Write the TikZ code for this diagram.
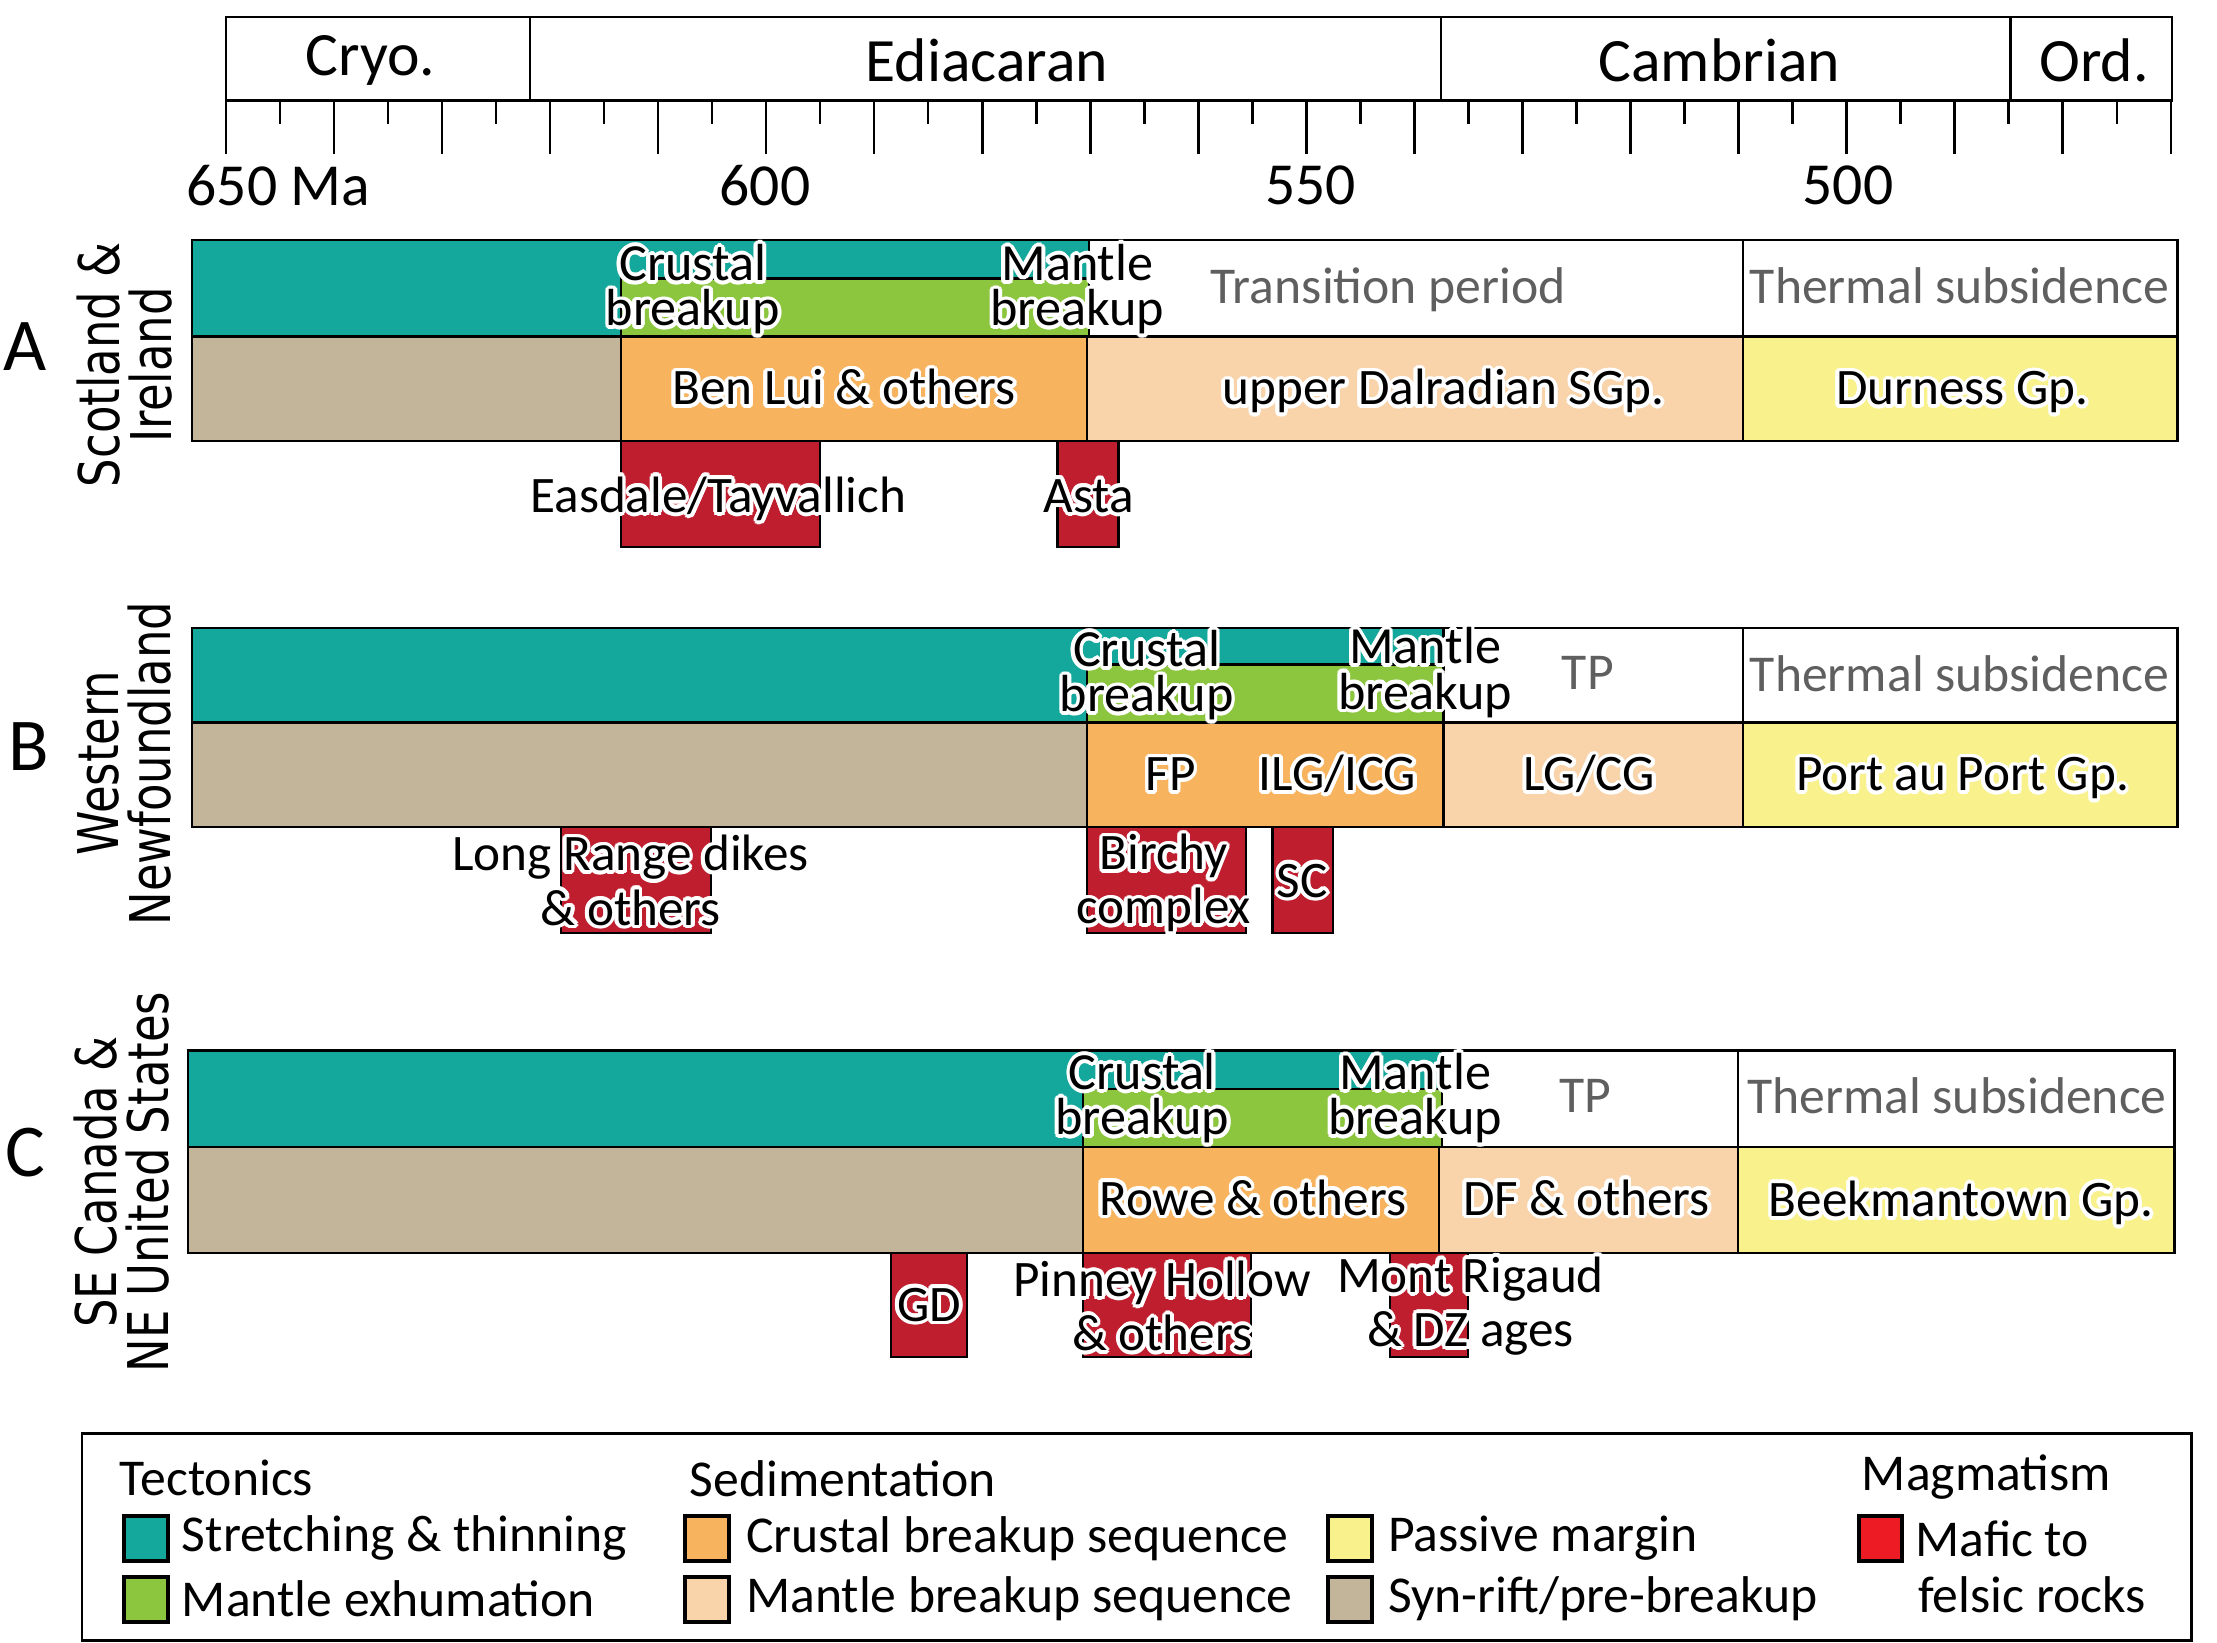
\documentclass[tikz,border=0pt]{standalone}
\usepackage{fontspec}
\setmainfont{Carlito}
\newfontfamily\regionfont{DejaVu Sans}[FakeStretch=0.8]
\usepackage[copies]{contour}
\contourlength{0.75pt}
\usepackage{tikz}
\usetikzlibrary{positioning}

\definecolor{stretch}{HTML}{14A89C}
\definecolor{exhum}{HTML}{8CC63F}
\definecolor{synrift}{HTML}{C3B59A}
\definecolor{crustseq}{HTML}{F8B35F}
\definecolor{mantseq}{HTML}{F9D3A9}
\definecolor{passive}{HTML}{F8F18C}
\definecolor{mafic}{HTML}{BE1E2D}
\definecolor{legred}{HTML}{ED1C24}
\definecolor{phasegray}{HTML}{5F5F5F}

\newcommand{\hl}[1]{\contour{white}{#1}}

\tikzstyle{period} = [font=\fontsize{12.4}{14}\selectfont, inner sep=0pt]
\tikzstyle{agelabel} = [font=\fontsize{12}{14}\selectfont, inner sep=0pt]
\tikzstyle{panel} = [font=\fontsize{15}{18}\selectfont, inner sep=0pt]
\tikzstyle{region} = [font=\regionfont\fontsize{11.3}{10.5}\selectfont,
    rotate=90, align=center, inner sep=0pt]
\tikzstyle{unitlabel} = [font=\fontsize{10.3}{11}\selectfont, inner sep=0pt,
    text height=8.5pt, text depth=2pt]
\tikzstyle{eventlabel} = [font=\fontsize{10.5}{9.1}\selectfont, align=center,
    inner sep=0pt]
\tikzstyle{rocklabel} = [font=\fontsize{10.3}{10.9}\selectfont, align=center,
    inner sep=0pt]
\tikzstyle{phaselabel} = [font=\fontsize{10.4}{12}\selectfont, text=phasegray,
    inner sep=0pt, text height=8.7pt, text depth=2pt]
\tikzstyle{legtext} = [font=\fontsize{10.4}{12}\selectfont, inner sep=0pt]
\tikzstyle{swatch} = [draw, line width=0.8pt, minimum width=3.1mm,
    minimum height=3.2mm, inner sep=0pt]

\begin{document}
\begin{tikzpicture}[x=0.1mm, y=-0.1mm, line width=0.45pt]
    \useasboundingbox (0,0) rectangle (1568,1162);

    % Time scale
    \draw (160,12) rectangle (1536,71);
    \draw (375,12) -- (375,71);
    \draw (1019,12) -- (1019,71);
    \draw (1422,12) -- (1422,71);
    \node [period] (cryo) at (262,43) {Cryo.};
    \node [period] (edia) at (698,43) {Ediacaran};
    \node [period] (camb) at (1216,43) {Cambrian};
    \node [period] (ord) at (1481,43) {Ord.};
    \foreach \i in {0,...,36} {
        \pgfmathsetmacro{\tickend}{mod(\i,2)==0 ? 109 : 88}
        \draw (160+\i*38.2,71) -- (160+\i*38.2,\tickend);
    }
    \node [agelabel] (ma650) at (197,131) {650 Ma};
    \node [agelabel] (ma600) at (541,131) {600};
    \node [agelabel] (ma550) at (927,131) {550};
    \node [agelabel] (ma500) at (1307,131) {500};

    % A: Scotland & Ireland
    \draw [fill=stretch] (136,170) rectangle (770,238);
    \draw [fill=exhum] (439,197) rectangle (770,238);
    \draw (770,170) rectangle (1233,238);
    \draw (1233,170) rectangle (1540,238);
    \draw [fill=synrift] (136,238) rectangle (439,312);
    \draw [fill=crustseq] (439,238) rectangle (769,312);
    \draw [fill=mantseq] (769,238) rectangle (1233,312);
    \draw [fill=passive] (1233,238) rectangle (1540,312);
    \draw [fill=mafic] (439,312) rectangle (580,387);
    \draw [fill=mafic] (748,312) rectangle (791,387);
    \node [panel] (panA) at (18,245) {A};
    \node [region] (regA) at (88,258) {Scotland \&\\Ireland};
    \node [eventlabel] (crustA) at (490,206) {\hl{Crustal}\\\hl{breakup}};
    \node [eventlabel] (mantleA) at (762,206) {\hl{Mantle}\\\hl{breakup}};
    \node [phaselabel] (transA) at (982,203) {Transition period};
    \node [phaselabel] (thermA) at (1386,203) {Thermal subsidence};
    \node [unitlabel] (benlui) at (597,275) {\hl{Ben Lui \& others}};
    \node [unitlabel] (dalr) at (1021,275) {\hl{upper Dalradian SGp.}};
    \node [unitlabel] (durness) at (1388,275) {\hl{Durness Gp.}};
    \node [unitlabel] (easdale) at (508,351) {\hl{Easdale/Tayvallich}};
    \node [unitlabel] (asta) at (770,351) {\hl{Asta}};

    % B: Western Newfoundland
    \draw [fill=stretch] (136,444) rectangle (1021,511);
    \draw [fill=exhum] (769,470) rectangle (1021,511);
    \draw (1021,444) rectangle (1233,511);
    \draw (1233,444) rectangle (1540,511);
    \draw [fill=synrift] (136,511) rectangle (769,585);
    \draw [fill=crustseq] (769,511) rectangle (1021,585);
    \draw [fill=mantseq] (1021,511) rectangle (1233,585);
    \draw [fill=passive] (1233,511) rectangle (1540,585);
    \draw [fill=mafic] (397,585) rectangle (503,660);
    \draw [fill=mafic] (769,585) rectangle (881,660);
    \draw [fill=mafic] (900,585) rectangle (943,660);
    \node [panel] (panB) at (20,528) {B};
    \node [region] (regB) at (88,540) {Western\\Newfoundland};
    \node [eventlabel] (crustB) at (811,479) {\hl{Crustal}\\\hl{breakup}};
    \node [eventlabel] (mantleB) at (1008,477) {\hl{Mantle}\\\hl{breakup}};
    \node [phaselabel] (tpB) at (1123,476) {TP};
    \node [phaselabel] (thermB) at (1386,477) {Thermal subsidence};
    \node [unitlabel] (fp) at (828,548) {\hl{FP}};
    \node [unitlabel] (ilg) at (946,548) {\hl{ILG/ICG}};
    \node [unitlabel] (lgcg) at (1124,548) {\hl{LG/CG}};
    \node [unitlabel] (port) at (1388,548) {\hl{Port au Port Gp.}};
    \node [rocklabel] (longrange) at (446,624) {\hl{Long Range dikes}\\\hl{\& others}};
    \node [rocklabel] (birchy) at (823,626) {\hl{Birchy}\\\hl{complex}};
    \node [unitlabel] (sc) at (921,623) {\hl{SC}};

    % C: SE Canada & NE United States
    \draw [fill=stretch] (133,743) rectangle (1020,811);
    \draw [fill=exhum] (766,770) rectangle (1020,811);
    \draw (1020,743) rectangle (1229,811);
    \draw (1229,743) rectangle (1538,811);
    \draw [fill=synrift] (133,811) rectangle (766,886);
    \draw [fill=crustseq] (766,811) rectangle (1018,886);
    \draw [fill=mantseq] (1018,811) rectangle (1229,886);
    \draw [fill=passive] (1229,811) rectangle (1538,886);
    \draw [fill=mafic] (630,886) rectangle (684,960);
    \draw [fill=mafic] (766,886) rectangle (885,960);
    \draw [fill=mafic] (983,886) rectangle (1038,960);
    \node [panel] (panC) at (18,815) {C};
    \node [region] (regC) at (86,836) {SE Canada \&\\NE United States};
    \node [eventlabel] (crustC) at (808,778) {\hl{Crustal}\\\hl{breakup}};
    \node [eventlabel] (mantleC) at (1001,778) {\hl{Mantle}\\\hl{breakup}};
    \node [phaselabel] (tpC) at (1121,775) {TP};
    \node [phaselabel] (thermC) at (1384,776) {Thermal subsidence};
    \node [unitlabel] (rowe) at (886,848) {\hl{Rowe \& others}};
    \node [unitlabel] (df) at (1122,848) {\hl{DF \& others}};
    \node [unitlabel] (beek) at (1387,849) {\hl{Beekmantown Gp.}};
    \node [unitlabel] (gd) at (657,923) {\hl{GD}};
    \node [rocklabel] (pinney) at (822,925) {\hl{Pinney Hollow}\\\hl{\& others}};
    \node [rocklabel] (mont) at (1040,925) {\hl{Mont Rigaud}\\\hl{\& DZ ages}};

    % Legend
    \draw [line width=0.6pt] (58,1014) rectangle (1550,1160);
    \node [legtext, anchor=west] (tect) at (84,1045) {Tectonics};
    \node [legtext, anchor=west] (sedi) at (487,1046) {Sedimentation};
    \node [legtext, anchor=west] (magm) at (1316,1045) {Magmatism};
    \node [swatch, fill=stretch] (swA) at (103,1088) {};
    \node [swatch, fill=exhum] (swB) at (103,1131) {};
    \node [swatch, fill=crustseq] (swC) at (500,1088) {};
    \node [swatch, fill=mantseq] (swD) at (500,1131) {};
    \node [swatch, fill=passive] (swE) at (955,1088) {};
    \node [swatch, fill=synrift] (swF) at (955,1131) {};
    \node [swatch, fill=legred] (swG) at (1330,1088) {};
    \node [legtext, right=0.8mm of swA] (stretchtxt) {Stretching \& thinning};
    \node [legtext, right=0.8mm of swB] (exhumtxt) {Mantle exhumation};
    \node [legtext, right=1mm of swC] (crusttxt) {Crustal breakup sequence};
    \node [legtext, right=1mm of swD] (manttxt) {Mantle breakup sequence};
    \node [legtext, right=0.9mm of swE] (passtxt) {Passive margin};
    \node [legtext, right=0.9mm of swF] (synrifttxt) {Syn-rift/pre-breakup};
    \node [legtext, right=0.7mm of swG] (mafictxt) {Mafic to};
    \node [legtext, anchor=west] (felsictxt) at (1356,1128) {felsic rocks};
\end{tikzpicture}
\end{document}
